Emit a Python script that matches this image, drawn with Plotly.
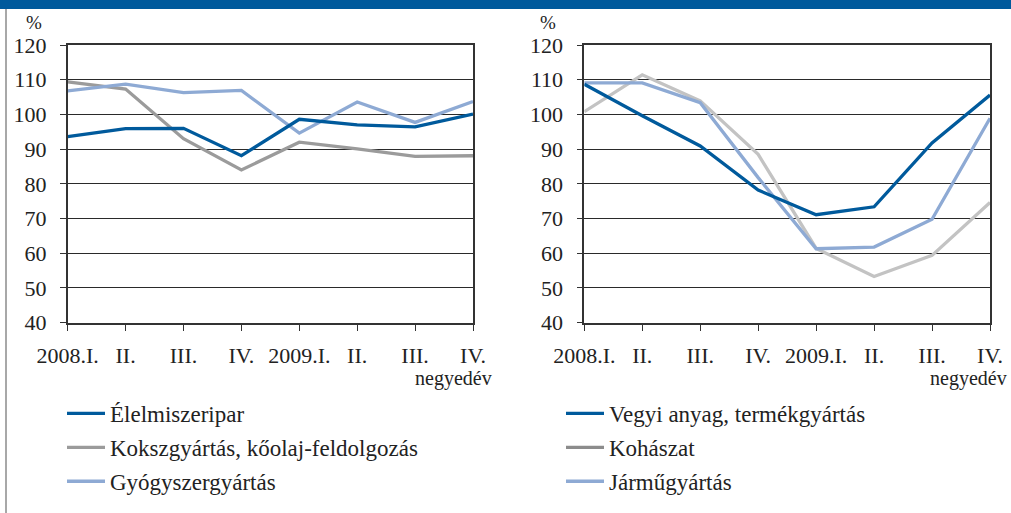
import plotly.graph_objects as go

quarters = ["2008.I", "2008.II", "2008.III", "2008.IV", "2009.I", "2009.II", "2009.III", "2009.IV"]
tick_labels = ["2008.I.", "II.", "III.", "IV.", "2009.I.", "II.", "III.", "IV."]
y_ticks = [40, 50, 60, 70, 80, 90, 100, 110, 120]

# Left panel
elelmiszeripar = [93.6, 95.9, 96.0, 88.1, 98.6, 97.0, 96.4, 100.1]
koksz = [109.4, 107.3, 93.0, 84.0, 92.0, 90.1, 87.9, 88.1]
gyogyszer = [106.8, 108.7, 106.3, 106.9, 94.6, 103.6, 97.7, 103.7]

# Right panel
vegyi = [108.7, 99.6, 90.9, 78.2, 71.1, 73.4, 91.8, 105.6]
kohaszat = [100.8, 111.4, 103.9, 88.5, 61.4, 53.3, 59.4, 74.6]
jarmu = [109.1, 109.1, 103.4, 81.8, 61.3, 61.8, 69.8, 98.9]

DARK_BLUE = "#005A9C"
GRAY = "#9B9B9B"
LIGHT_BLUE = "#8EAAD4"
LIGHT_GRAY = "#C3C3C3"
LEGEND_GRAY = "#8C8C8C"
FONT = "Liberation Serif"
TXT = "#222222"

fig = go.Figure()

def add(x, y, name, color, xa, ya, legend, rank, showlegend=True):
    fig.add_trace(go.Scatter(x=x, y=y, name=name, mode="lines",
                             line=dict(color=color, width=3.3),
                             xaxis=xa, yaxis=ya, legend=legend,
                             legendgroup=name + legend, legendrank=rank,
                             showlegend=showlegend, hoverinfo="skip"))

add(quarters, koksz, "Kokszgyártás, kőolaj-feldolgozás", GRAY, "x", "y", "legend", 2)
add(quarters, gyogyszer, "Gyógyszergyártás", LIGHT_BLUE, "x", "y", "legend", 3)
add(quarters, elelmiszeripar, "Élelmiszeripar", DARK_BLUE, "x", "y", "legend", 1)

add(quarters, kohaszat, "Kohászat", LIGHT_GRAY, "x2", "y2", "legend2", 2, showlegend=False)
add(quarters, jarmu, "Járműgyártás", LIGHT_BLUE, "x2", "y2", "legend2", 3)
add(quarters, vegyi, "Vegyi anyag, termékgyártás", DARK_BLUE, "x2", "y2", "legend2", 1)
# legend entry for Kohászat (legend swatch colour differs from line)
fig.add_trace(go.Scatter(x=[None], y=[None], name="Kohászat", mode="lines",
                         line=dict(color=LEGEND_GRAY, width=3.3),
                         xaxis="x2", yaxis="y2", legend="legend2",
                         legendgroup="Kohászat-legend", legendrank=2,
                         hoverinfo="skip"))

W, H = 1011, 513
def px_x(p):
    return p / W
def px_y(p):
    return 1 - p / H

xcommon = dict(type="category", categoryorder="array", categoryarray=quarters,
               tickmode="array", tickvals=quarters, ticktext=tick_labels,
               range=[0, 7], showline=True, mirror=True, linecolor="#333333",
               linewidth=1.6, ticks="outside", ticklen=6, tickcolor="#333333",
               tickwidth=1.2, showgrid=False, zeroline=False,
               tickfont=dict(family=FONT, size=22, color=TXT),
               ticklabelstandoff=6, fixedrange=True)
ycommon = dict(range=[40, 120], tickmode="array", tickvals=y_ticks,
               showline=True, mirror=True, linecolor="#333333", linewidth=1.6,
               ticks="outside", ticklen=6, tickcolor="#333333", tickwidth=1.2,
               showgrid=True, gridcolor="#2a2a2a", gridwidth=1, zeroline=False,
               tickfont=dict(family=FONT, size=22, color=TXT), fixedrange=True)

def ann(text, x, y, size, xanchor="center"):
    return dict(text=text, x=px_x(x), y=px_y(y), xref="paper", yref="paper",
                xanchor=xanchor, yanchor="middle", showarrow=False,
                font=dict(family=FONT, size=size, color=TXT))

ydom = [px_y(322.7), px_y(45)]
fig.update_layout(
    width=W, height=H, margin=dict(l=0, r=0, t=0, b=0, autoexpand=False),
    paper_bgcolor="white", plot_bgcolor="white",
    xaxis=dict(domain=[px_x(67.7), px_x(473)], anchor="y", **xcommon),
    yaxis=dict(domain=ydom, anchor="x", ticklabelstandoff=9, **ycommon),
    xaxis2=dict(domain=[px_x(584.3), px_x(990)], anchor="y2", **xcommon),
    yaxis2=dict(domain=ydom, anchor="x2", ticklabelstandoff=9, **ycommon),
    legend=dict(x=px_x(62), y=px_y(392), xanchor="left", yanchor="top",
                traceorder="grouped", tracegroupgap=1, itemwidth=38,
                font=dict(family=FONT, size=23, color=TXT),
                bgcolor="rgba(0,0,0,0)"),
    legend2=dict(x=px_x(561), y=px_y(392), xanchor="left", yanchor="top",
                 traceorder="grouped", tracegroupgap=1, itemwidth=38,
                 font=dict(family=FONT, size=23, color=TXT),
                 bgcolor="rgba(0,0,0,0)"),
    shapes=[
        dict(type="rect", xref="paper", yref="paper", x0=0, x1=1,
             y0=px_y(9), y1=1, fillcolor="#005A9C", line=dict(width=0)),
        dict(type="line", xref="paper", yref="paper", x0=px_x(6), x1=px_x(6),
             y0=0, y1=px_y(9), line=dict(color="#A8A8A8", width=2)),
    ],
    annotations=[
        ann("%", 34, 23, 19),
        ann("%", 548, 23, 19),
        ann("negyedév", 494, 378, 20, xanchor="right"),
        ann("negyedév", 1009, 378, 20, xanchor="right"),
    ],
    showlegend=True,
)

fig.write_html("out.html", config={"displayModeBar": False},
               post_script="document.body.style.margin='0';document.documentElement.style.overflow='hidden';")
